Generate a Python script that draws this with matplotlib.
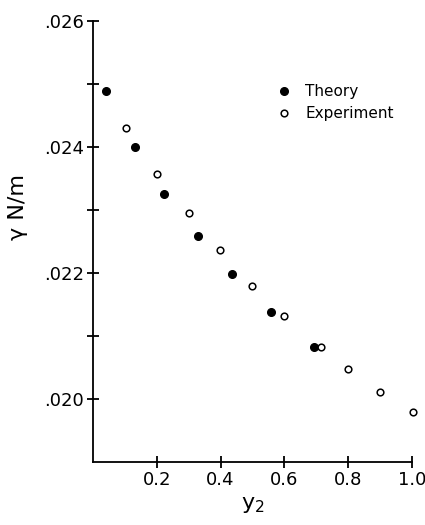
import matplotlib
matplotlib.use("Agg")
import matplotlib.pyplot as plt
from matplotlib.ticker import FixedLocator

# data
theory_y2 = [0.042, 0.130, 0.222, 0.329, 0.437, 0.558, 0.692]
theory_gamma = [0.02489, 0.02400, 0.02326, 0.02258, 0.02198, 0.02138, 0.02083]
exp_y2 = [0.102, 0.201, 0.301, 0.398, 0.499, 0.600, 0.716, 0.799, 0.900, 1.005]
exp_gamma = [0.02430, 0.02357, 0.02295, 0.02237, 0.02180, 0.02132, 0.02083, 0.02047, 0.02011, 0.01979]
xticks = [0.2, 0.4, 0.6, 0.8, 1.0]
xticklabels = ["0.2", "0.4", "0.6", "0.8", "1.0"]
yticks = [0.020, 0.022, 0.024, 0.026]
yticklabels = [".020", ".022", ".024", ".026"]

plt.rcParams["font.family"] = "DejaVu Sans"

fig = plt.figure(figsize=(4.25, 5.25), dpi=100)
ax = fig.add_axes([0.219, 0.12, 0.750, 0.84])

ax.plot(theory_y2, theory_gamma, "o", color="black", ms=5.5, ls="none",
        label="Theory", clip_on=False, zorder=3)
ax.plot(exp_y2, exp_gamma, "o", mfc="white", mec="black", mew=1.1, ms=4.8, ls="none",
        label="Experiment", clip_on=False, zorder=3)

ax.set_xlim(0, 1.0)
ax.set_ylim(0.019, 0.026)
ax.spines["top"].set_visible(False)
ax.spines["right"].set_visible(False)
for s in ("left", "bottom"):
    ax.spines[s].set_linewidth(1.3)

ax.set_xticks(xticks)
ax.set_xticklabels(xticklabels, fontsize=13)
ax.set_yticks(yticks)
ax.set_yticklabels(yticklabels, fontsize=13)
ax.yaxis.set_minor_locator(FixedLocator([0.021, 0.023, 0.025]))
ax.tick_params(which="both", direction="inout", length=9, width=1.3, pad=2)

ax.set_xlabel("y$_2$", fontsize=16, labelpad=4)
ax.set_ylabel("γ N/m", fontsize=16)
ax.yaxis.set_label_coords(-0.205, 0.578)

ax.legend(loc="upper left", bbox_to_anchor=(0.56, 0.87), frameon=False,
          handlelength=0.8, handletextpad=1.0, labelspacing=0.45, fontsize=11,
          borderaxespad=0)

fig.savefig("out.png", dpi=100)
